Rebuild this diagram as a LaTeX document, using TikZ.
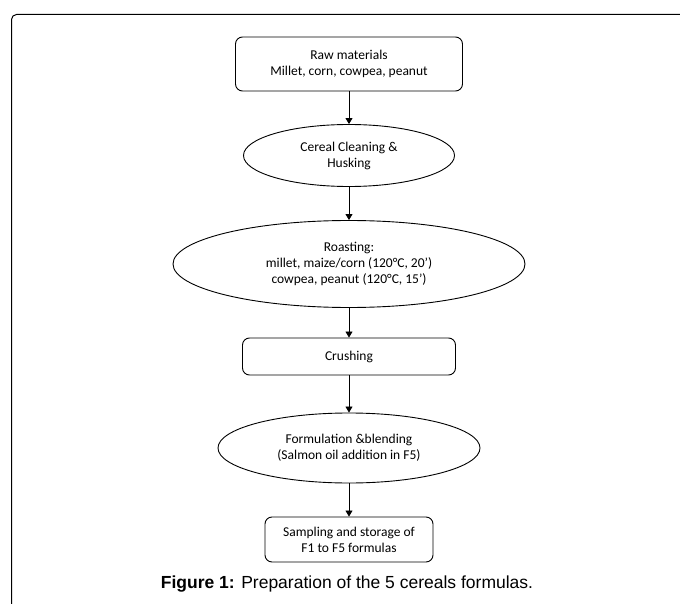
\documentclass[tikz,border=0pt]{standalone}
\usepackage{fontspec}
\setmainfont{Carlito}
\newfontfamily\capfont{Liberation Sans}
\usetikzlibrary{shapes.geometric,arrows.meta}
\begin{document}
\begin{tikzpicture}[x=1pt,y=-1pt,
  line width=0.9pt,
  every node/.style={font=\fontsize{13.5}{16}\selectfont, align=center, inner sep=0pt},
  boxnode/.style={draw, rounded corners=7pt, minimum width=#1},
  ovalnode/.style={draw, ellipse},
  link/.style={-{Triangle[length=6pt,width=7pt]}, line width=0.8pt}]
\useasboundingbox (0,0) rectangle (680,604);
\draw[line width=1pt, rounded corners=5pt] (680,14.5) -- (11.5,14.5) -- (11.5,604);
\node[boxnode=227, minimum height=54] (raw) at (349,64) {Raw materials\\Millet, corn, cowpea, peanut};
\node[ovalnode, minimum width=211, minimum height=62] (clean) at (349,155.5) {Cereal Cleaning \&\\Husking};
\node[ovalnode, minimum width=352, minimum height=87] (roast) at (349,264) {Roasting:\\millet, maize/corn (120°C, 20’)\\cowpea, peanut (120°C, 15’)};
\node[boxnode=213, minimum height=37] (crush) at (349,356.5) {Crushing};
\node[ovalnode, minimum width=262, minimum height=70] (form) at (349,448) {Formulation \&blending\\(Salmon oil addition in F5)};
\node[boxnode=168, minimum height=45] (samp) at (349,539.5) {Sampling and storage of\\F1 to F5 formulas};
\draw[link] (raw) -- (clean);
\draw[link] (clean) -- (roast);
\draw[link] (roast) -- (crush);
\draw[link] (crush) -- (form);
\draw[link] (form) -- (samp);
\node[font=\capfont\fontsize{17.5}{20}\selectfont, anchor=base] (cap) at (347,588) {\textbf{Figure 1:} Preparation of the 5 cereals formulas.};
\end{tikzpicture}
\end{document}
